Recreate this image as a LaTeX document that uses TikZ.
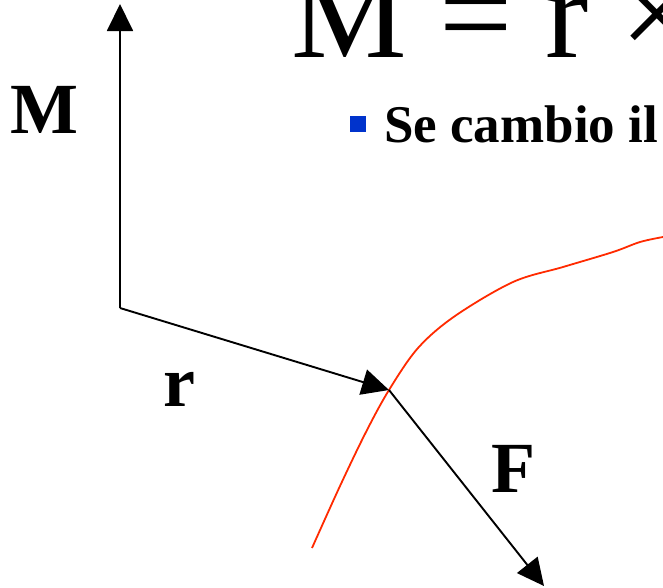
\documentclass[tikz,border=0pt]{standalone}
\usepackage{fontspec}
\setmainfont{Liberation Serif}
\usetikzlibrary{arrows.meta}
\definecolor{bulletblue}{HTML}{0033CC}
\definecolor{curvered}{HTML}{FF2A00}
\tikzset{
  vec/.style={line width=1.9pt, -{Triangle[length=27pt,width=26pt]}},
  lbl/.style={font=\fontsize{72}{72}\selectfont\bfseries, inner sep=0pt},
}
\begin{document}
\begin{tikzpicture}[x=1pt,y=-1pt]
\useasboundingbox (0,0) rectangle (663,587);
\clip (0,0) rectangle (663,587);
% title and bullet
\node[anchor=base west, inner sep=0pt, font=\fontsize{130}{130}\selectfont] (title) at (291,57) {M = r ×};
\fill[bulletblue] (350,116) rectangle (366,132);
\node[anchor=base west, inner sep=0pt, font=\fontsize{53}{53}\selectfont\bfseries] (bullet) at (384,142) {Se cambio il};
% curve
\draw[curvered, line width=1.8pt] plot[smooth, tension=0.55] coordinates {(312,548) (340,486) (366,432) (389,390) (418,348) (455,316) (513,282) (563,267) (613,252) (640,242) (663,237)};
% vectors
\coordinate (O) at (120,308);
\coordinate (Mtip) at (120,4);
\coordinate (P) at (389,390);
\coordinate (Ftip) at (544,586);
\draw[vec] (O) -- (Mtip);
\draw[vec] (O) -- (P);
\draw[vec] (P) -- (Ftip);
% labels
\node[lbl] (Mlbl) at (44,110) {M};
\node[lbl, anchor=base] (rlbl) at (179,406) {r};
\node[lbl] (Flbl) at (513,469) {F};
\end{tikzpicture}
\end{document}
